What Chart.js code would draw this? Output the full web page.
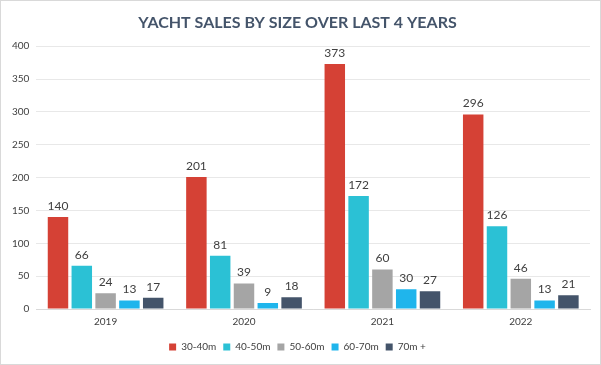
<!DOCTYPE html>
<html>
<head>
<meta charset="utf-8">
<script src="https://cdn.jsdelivr.net/npm/chart.js@4/dist/chart.umd.min.js"></script>
<style>
  html, body { margin: 0; padding: 0; background: #fff; }
  #wrap { position: relative; width: 599px; height: 363px; border: 1px solid #d9d9d9; }
</style>
</head>
<body>
<div id="wrap"><canvas id="yachtChart"></canvas></div>
<script>
// categories and series
const years = ["2019", "2020", "2021", "2022"];
const sizes = ["30-40m", "40-50m", "50-60m", "60-70m", "70m +"];
const sales3040 = [140, 201, 373, 296];
const sales4050 = [66, 81, 172, 126];
const sales5060 = [24, 39, 60, 46];
const sales6070 = [13, 9, 30, 13];
const sales70up = [17, 18, 27, 21];
const colors = ["#d54135", "#2bc1d5", "#a5a5a5", "#1fb5ec", "#44546a"];

const font = "Lato, 'Open Sans', sans-serif";

// draws the value above each bar
const valueLabels = {
   id: "valueLabels",
   afterDatasetsDraw(chart) {
      const ctx = chart.ctx;
      ctx.save();
      ctx.font = "12px " + font;
      ctx.fillStyle = "#404040";
      ctx.textAlign = "center";
      ctx.textBaseline = "bottom";
      chart.data.datasets.forEach(function (ds, i) {
         chart.getDatasetMeta(i).data.forEach(function (bar, j) {
            ctx.fillText(ds.data[j], bar.x, bar.y - 5);
         });
      });
      ctx.restore();
   },
};

const allData = [sales3040, sales4050, sales5060, sales6070, sales70up];

const yachtchart = document.getElementById("yachtChart").getContext("2d");
const yachtChart = new Chart(yachtchart, {
   type: "bar",
   data: {
      labels: years,
      datasets: sizes.map(function (s, i) {
         return {
            label: s,
            data: allData[i],
            backgroundColor: colors[i],
            categoryPercentage: 0.86,
            barPercentage: 0.86,
         };
      }),
   },
   options: {
      responsive: true,
      maintainAspectRatio: false,
      animation: false,
      layout: { padding: { left: 4, right: 10, top: 2, bottom: 2 } },
      plugins: {
         title: {
            display: true,
            text: "YACHT SALES BY SIZE OVER LAST 4 YEARS",
            color: "#44546a",
            font: { family: font, size: 16, weight: "bold" },
            padding: { top: 10, bottom: 14 },
         },
         legend: {
            position: "bottom",
            labels: {
               boxWidth: 7,
               boxHeight: 7,
               color: "#404040",
               font: { family: font, size: 10 },
               padding: 7,
            },
         },
         tooltip: { enabled: false },
      },
      scales: {
         x: {
            grid: { display: false, tickLength: 0 },
            border: { color: "#d9d9d9" },
            ticks: { color: "#404040", font: { family: font, size: 10 }, padding: 7 },
         },
         y: {
            min: 0,
            max: 400,
            ticks: {
               stepSize: 50,
               color: "#404040",
               font: { family: font, size: 10 },
               padding: 7,
            },
            border: { display: false },
            grid: { color: "#e8e8e8", drawTicks: false },
         },
      },
   },
   plugins: [valueLabels],
});
</script>
</body>
</html>
